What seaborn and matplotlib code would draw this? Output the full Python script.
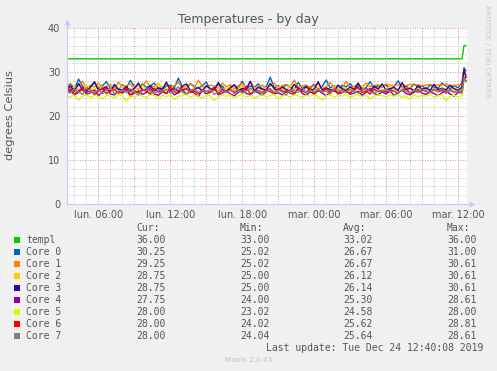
import numpy as np
import pandas as pd
import matplotlib
matplotlib.use("Agg")
import matplotlib.pyplot as plt
import seaborn as sns
from matplotlib.patches import Rectangle

# ---------------- data ----------------
series_names = ["templ", "Core 0", "Core 1", "Core 2", "Core 3",
                "Core 4", "Core 5", "Core 6", "Core 7"]
series_colors = ["#00CC00", "#0066B3", "#FF8000", "#FFCC00", "#330099",
                 "#990099", "#CCFF00", "#FF0000", "#808080"]

# sample times in hours since Monday 00:00 (20-min steps, then 10-min at the end)
sample_hours = list(np.round(np.arange(100) / 3.0 + 10.0 / 3.0, 4)) + [36.5, 36.6667]

templ_vals = """
33 33 33 33 33 33 33 33 33 33  33 33 33 33 33 33 33 33 33 33
33 33 33 33 33 33 33 33 33 33  33 33 33 33 33 33 33 33 33 33
33 33 33 33 33 33 33 33 33 33  33 33 33 33 33 33 33 33 33 33
33 33 33 33 33 33 33 33 33 33  33 33 33 33 33 33 33 33 33 33
33 33 33 33 33 33 33 33 33 33  33 33 33 33 33 33 33 33 33 33
36 36
"""
core0_vals = """
26.5 27.2 26.1 28.4 26.8 25.9 26.7 27.6 26.2 26.9
27.8 26.3 26.6 25.8 27.1 26.4 28.1 26.7 26.0 27.3
26.5 26.9 27.5 26.2 25.9 26.8 27.0 26.4 28.6 26.6
26.1 27.4 26.7 26.3 26.9 27.7 26.0 26.5 27.2 26.8
25.7 26.6 27.0 26.4 27.9 26.2 26.8 26.5 27.3 26.1
26.7 28.8 26.4 26.9 26.2 27.1 26.6 26.0 27.6 26.3
26.8 26.5 27.2 26.0 26.7 28.2 26.4 26.9 26.1 27.0
26.6 27.4 26.2 26.8 25.8 26.5 27.8 26.3 26.9 26.6
27.1 26.0 26.7 28.0 26.4 26.8 26.2 27.3 26.5 26.9
26.1 27.0 26.6 26.3 27.5 26.8 26.2 26.9 26.4 27.6
31.0 30.25
"""
core1_vals = """
26.9 27.4 26.5 26.8 27.9 26.3 27.0 26.6 27.5 26.4
26.8 27.2 26.1 27.7 26.6 26.9 27.3 26.2 27.0 26.7
28.0 26.5 26.8 27.4 26.3 27.1 26.6 26.9 27.6 26.2
26.8 27.3 26.5 28.1 26.7 26.4 27.0 26.8 26.3 27.5
26.6 27.1 26.2 26.9 27.4 26.5 27.8 26.4 26.7 27.0
26.3 26.8 27.5 26.1 26.9 27.2 26.6 28.2 26.5 26.8
27.1 26.4 26.9 27.3 26.2 26.7 27.6 26.5 27.0 26.3
27.9 26.6 26.8 27.2 26.4 27.5 26.7 26.9 27.1 26.6
27.3 27.0 26.8 27.1 27.0 26.9 27.2 27.0 27.1 26.9
27.0 27.2 26.8 27.1 27.0 27.3 26.9 27.0 27.1 26.9
30.6 29.25
"""
core2_vals = """
26.3 25.8 26.7 26.0 25.6 26.9 26.2 25.9 27.1 26.0
25.7 26.5 26.1 25.8 26.8 26.3 25.5 26.6 26.0 26.9
26.2 25.7 26.4 27.3 25.9 26.1 26.6 25.8 26.3 26.0
26.7 25.6 26.2 26.5 25.9 26.8 26.1 25.7 26.4 26.2
26.0 26.6 25.8 26.3 26.9 25.9 26.2 26.5 25.7 26.1
26.4 26.0 25.8 26.7 26.2 25.9 27.0 26.1 26.3 25.8
26.5 26.1 25.9 26.6 26.0 26.3 25.7 26.8 26.2 26.0
26.4 25.8 26.6 26.1 26.9 25.9 26.3 26.0 26.5 25.8
26.2 26.7 25.9 26.1 26.4 26.0 26.6 25.8 26.3 26.1
26.5 25.9 26.2 26.0 26.4 26.1 25.8 26.3 26.0 26.2
30.6 28.75
"""
core3_vals = """
25.9 26.8 25.6 27.4 26.0 25.7 26.5 27.8 25.8 26.2
26.6 25.5 27.2 26.1 25.9 26.7 25.6 26.3 27.5 25.8
26.0 26.9 25.7 26.4 26.1 27.7 25.9 26.2 25.6 26.8
27.3 25.8 26.0 26.5 25.7 26.9 26.2 25.9 27.6 26.0
25.6 26.4 27.1 25.8 26.3 26.0 27.9 25.7 26.5 26.1
25.9 27.4 26.2 25.8 26.6 26.0 25.7 27.2 26.3 25.9
26.7 25.8 26.1 27.8 25.9 26.4 26.0 25.7 27.0 26.2
25.8 26.6 26.0 27.5 25.9 26.3 25.6 26.8 26.1 27.3
25.9 26.2 26.5 25.8 27.6 26.0 26.3 25.7 26.9 26.1
26.4 25.8 27.2 26.0 26.3 25.9 27.0 26.2 25.8 26.6
30.6 28.75
"""
core4_vals = """
25.1 25.8 24.7 25.4 26.2 24.9 25.3 25.9 24.6 25.5
26.4 25.0 24.8 25.6 25.2 26.0 24.5 25.3 25.7 24.9
25.4 26.3 25.0 24.7 25.5 25.1 25.9 24.8 25.3 26.1
24.9 25.6 25.2 24.4 25.8 25.0 25.4 26.5 24.8 25.2
25.7 25.0 24.6 25.4 26.0 25.1 24.9 25.6 25.3 24.7
25.5 26.2 25.0 25.3 24.8 25.7 25.2 24.9 26.4 25.1
24.7 25.5 25.0 25.8 25.2 24.6 25.4 26.1 25.0 25.3
25.8 24.9 25.2 25.6 24.7 25.4 26.3 25.1 24.8 25.5
25.0 25.7 24.6 25.3 25.9 25.1 24.8 25.4 26.0 25.2
24.9 25.5 25.1 24.6 25.3 25.8 25.0 24.5 25.4 25.2
28.6 27.75
"""
core5_vals = """
24.6 24.3 24.9 23.6 24.5 24.8 24.2 24.7 24.4 23.9
24.8 24.5 24.1 24.9 24.6 23.4 24.7 24.3 24.8 24.5
24.2 24.9 24.6 24.0 24.7 24.4 24.8 23.7 24.5 24.6
24.9 24.3 24.7 24.5 24.1 24.8 24.6 23.5 24.4 24.7
24.5 24.8 24.2 24.6 24.9 24.3 24.7 24.0 24.5 24.8
24.4 24.6 24.9 23.8 24.5 24.7 24.3 24.8 24.6 24.2
24.7 24.5 24.9 24.4 23.6 24.6 24.8 24.3 24.7 24.5
24.9 24.2 24.6 24.8 24.4 24.7 23.9 24.5 24.8 24.6
24.3 24.7 24.5 24.9 24.2 24.6 23.7 24.8 24.4 24.7
24.5 24.9 24.3 24.6 24.8 23.5 24.5 24.7 24.4 24.6
28.0 28.0
"""
core6_vals = """
25.4 26.2 25.0 25.7 26.5 25.3 25.9 24.9 25.6 26.3
25.1 25.8 26.0 25.2 25.5 26.4 24.8 25.7 25.3 26.1
25.6 25.0 26.3 25.4 25.8 25.1 26.6 25.5 25.2 25.9
26.2 25.3 25.7 25.0 26.0 25.6 25.4 26.4 25.1 25.8
25.5 26.1 25.2 25.9 25.4 26.7 25.0 25.6 25.8 25.3
26.0 25.5 25.1 26.3 25.7 25.4 25.9 25.2 26.1 25.6
25.3 26.4 25.0 25.8 25.5 26.2 25.4 25.7 25.1 26.0
25.6 25.2 25.9 26.5 25.3 25.7 25.0 26.1 25.5 25.8
25.4 26.0 25.6 25.2 25.9 26.3 25.1 25.7 25.4 25.9
25.6 25.3 26.1 25.5 25.8 25.2 26.0 25.4 25.7 25.5
28.8 28.0
"""
core7_vals = """
25.7 25.2 26.1 25.5 24.9 26.4 25.6 25.3 26.0 25.1
25.8 26.5 25.0 25.6 25.9 25.3 26.2 25.4 24.8 25.7
26.3 25.5 25.1 25.9 25.6 26.0 25.2 25.8 26.6 25.4
25.0 25.7 26.2 25.3 25.8 25.5 26.1 24.9 25.6 26.4
25.3 25.9 25.5 26.0 25.2 25.7 26.3 25.4 25.8 25.1
25.6 26.2 25.3 25.9 25.5 24.8 26.0 25.7 25.4 26.5
25.2 25.8 25.5 26.1 25.4 25.7 25.0 26.3 25.6 25.9
25.3 26.0 25.7 25.2 25.9 26.4 25.5 25.1 25.8 25.6
26.2 25.4 25.7 25.3 26.0 25.6 25.2 25.9 25.5 26.1
25.7 25.3 25.9 25.6 26.2 25.4 25.8 25.5 25.7 25.3
28.6 28.0
"""
raw_values = [templ_vals, core0_vals, core1_vals, core2_vals, core3_vals,
              core4_vals, core5_vals, core6_vals, core7_vals]

x_tick_hours = [6, 12, 18, 24, 30, 36]
x_tick_labels = ["lun. 06:00", "lun. 12:00", "lun. 18:00",
                 "mar. 00:00", "mar. 06:00", "mar. 12:00"]
y_ticks = [0, 10, 20, 30, 40]

legend_cur = ["36.00", "30.25", "29.25", "28.75", "28.75", "27.75", "28.00", "28.00", "28.00"]
legend_min = ["33.00", "25.02", "25.02", "25.00", "25.00", "24.00", "23.02", "24.02", "24.04"]
legend_avg = ["33.02", "26.67", "26.67", "26.12", "26.14", "25.30", "24.58", "25.62", "25.64"]
legend_max = ["36.00", "31.00", "30.61", "30.61", "30.61", "28.61", "28.00", "28.81", "28.61"]

# ---------------- build frame ----------------
rows = []
for name, txt in zip(series_names, raw_values):
    vals = [float(v) for v in txt.split()]
    for h, v in zip(sample_hours, vals):
        rows.append({"hour": h, "temp": v, "series": name})
df = pd.DataFrame(rows)

# ---------------- figure ----------------
W, H = 497, 371
sns.set_theme(style="white")
plt.rcParams["font.family"] = ["DejaVu Sans"]
TXT = "#555555"
fig = plt.figure(figsize=(W / 100, H / 100), dpi=100, facecolor="#F0F0F0")

def fx(x):
    return x / W

def fy(y):
    return 1 - y / H

left, right, top, bottom = 66.5, 467, 28, 204
ax = fig.add_axes([fx(left), fy(bottom), (right - left) / W, (bottom - top) / H])
ax.set_facecolor("white")

sns.lineplot(data=df, x="hour", y="temp", hue="series", hue_order=series_names,
             palette=series_colors, estimator=None, sort=False, legend=False,
             linewidth=1.0, ax=ax)

ax.set_xlim(10.0 / 3.0, 36.75)
ax.set_ylim(0, 40)

# grid
ax.set_xticks(np.arange(6, 37, 3))
ax.set_xticks(np.arange(4, 37, 1), minor=True)
ax.set_xticklabels([x_tick_labels[x_tick_hours.index(int(t))] if int(t) in x_tick_hours else ""
                    for t in np.arange(6, 37, 3)])
ax.set_yticks(y_ticks)
ax.set_yticks(np.arange(0, 41, 2), minor=True)
ax.grid(which="minor", color="#C4C4C4", linestyle=(0, (1, 1.5)), linewidth=0.72)
ax.grid(which="major", color="#DE9494", linestyle=(0, (1, 1.5)), linewidth=0.72)
ax.set_axisbelow(True)

ax.tick_params(axis="both", which="major", length=2, width=0.7, color="#DE9494",
               labelsize=7, labelcolor=TXT, pad=2.5)
ax.tick_params(axis="both", which="minor", length=1.5, width=0.7, color="#C4C4C4")
ax.set_xlabel("")
ax.set_ylabel("")

for s in ["top", "right"]:
    ax.spines[s].set_visible(False)
for s in ["left", "bottom"]:
    ax.spines[s].set_color("#C8C8FF")
    ax.spines[s].set_linewidth(0.8)

# axis arrows
ax.plot([0, 0], [1, 1.03], transform=ax.transAxes, color="#C8C8FF", lw=0.8, clip_on=False)
ax.plot([0], [1.035], transform=ax.transAxes, marker="^", ms=4, color="#C8C8FF",
        clip_on=False, mec="none")
ax.plot([1, 1.01], [0, 0], transform=ax.transAxes, color="#C8C8FF", lw=0.8, clip_on=False)
ax.plot([1.012], [0], transform=ax.transAxes, marker=">", ms=4, color="#C8C8FF",
        clip_on=False, mec="none")

# titles
fig.text(fx(248.5), fy(19), "Temperatures - by day", ha="center", va="center",
         fontsize=9, color=TXT)
fig.text(fx(10), fy(115), "degrees Celsius", ha="center", va="center",
         rotation=90, fontsize=8.2, color=TXT)
fig.text(fx(487), fy(5), "RRDTOOL / TOBI OETIKER", ha="center", va="top",
         rotation=270, fontsize=5.2, color="#C8C8C8")

# legend block
mono = "DejaVu Sans Mono"
cols_x = [136, 240, 343, 447]
heads = ["Cur:", "Min:", "Avg:", "Max:"]
for cx, hd in zip(cols_x, heads):
    fig.text(fx(cx), fy(228), hd, ha="left", va="center", fontsize=7,
             family=mono, color=TXT)
for i, name in enumerate(series_names):
    yy = 240 + 12 * i
    fig.patches.append(Rectangle((fx(14), fy(yy + 3)), 6 / W, 6 / H,
                                 transform=fig.transFigure, color=series_colors[i],
                                 lw=0))
    fig.text(fx(26.5), fy(yy), name, ha="left", va="center", fontsize=7,
             family=mono, color=TXT)
    for cx, col in zip(cols_x, [legend_cur, legend_min, legend_avg, legend_max]):
        fig.text(fx(cx), fy(yy), col[i], ha="left", va="center", fontsize=7,
                 family=mono, color=TXT)
fig.text(fx(483), fy(348), "Last update: Tue Dec 24 12:40:08 2019", ha="right",
         va="center", fontsize=7, family=mono, color=TXT)
fig.text(fx(248.5), fy(360), "Munin 2.0.43", ha="center", va="center",
         fontsize=5.2, color="#C0C0C0")

fig.savefig("out.png", dpi=100, facecolor=fig.get_facecolor())
